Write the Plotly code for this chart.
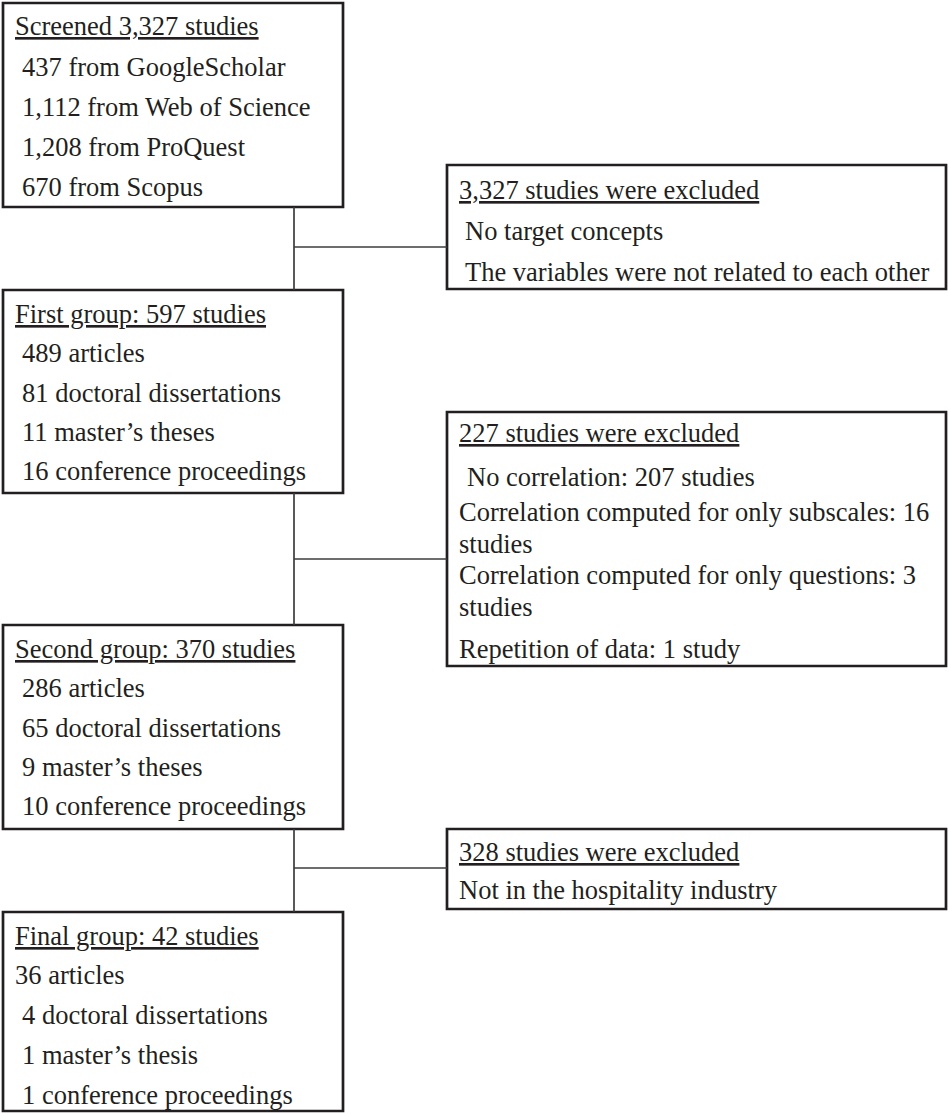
import plotly.graph_objects as go

# ---- text content (data) ----
screened_header = "Screened 3,327 studies"
screened_items = ["437 from GoogleScholar", "1,112 from Web of Science",
                  "1,208 from ProQuest", "670 from Scopus"]

excl1_header = "3,327 studies were excluded"
excl1_items = ["No target concepts", "The variables were not related to each other"]

first_header = "First group: 597 studies"
first_items = ["489 articles", "81 doctoral dissertations",
               "11 master\u2019s theses", "16 conference proceedings"]

excl2_header = "227 studies were excluded"
excl2_items = ["No correlation: 207 studies",
               "Correlation computed for only subscales: 16", "studies",
               "Correlation computed for only questions: 3", "studies",
               "Repetition of data: 1 study"]

second_header = "Second group: 370 studies"
second_items = ["286 articles", "65 doctoral dissertations",
                "9 master\u2019s theses", "10 conference proceedings"]

excl3_header = "328 studies were excluded"
excl3_items = ["Not in the hospitality industry"]

final_header = "Final group: 42 studies"
final_items = ["36 articles", "4 doctoral dissertations",
               "1 master\u2019s thesis", "1 conference proceedings"]

# ---- layout (positions in page pixels) ----
W, H = 949, 1113
TEXT = "#231f20"
FONT = "Liberation Serif, Times New Roman, serif"
FS = 26.5

boxes = [
    # (x0, y0, x1, y1, header, items, header_x, item_xs, line_ys)
    (3, 3, 343, 207, screened_header, screened_items, 13, [20, 20, 20, 20],
     [26, 67, 107, 147, 187]),
    (447, 165, 946, 289, excl1_header, excl1_items, 457, [463, 463],
     [190, 231, 272]),
    (3, 290, 343, 493, first_header, first_items, 13, [20, 20, 20, 20],
     [314, 353, 393, 432, 471]),
    (447, 412, 946, 666, excl2_header, excl2_items, 457,
     [465, 457, 457, 457, 457, 457],
     [433, 477, 512, 544, 575, 607, 649]),
    (3, 625, 343, 829, second_header, second_items, 13, [20, 20, 20, 20],
     [649, 688, 728, 767, 806]),
    (447, 829, 946, 909, excl3_header, excl3_items, 457, [457],
     [852, 890]),
    (3, 912, 343, 1111, final_header, final_items, 13, [13, 20, 20, 20],
     [936, 975, 1015, 1055, 1095]),
]

connectors = [
    # vertical x, y top, y bottom, horizontal y, horizontal x end
    (294, 207, 290, 247, 447),
    (294, 493, 625, 559, 447),
    (294, 829, 912, 868, 447),
]

fig = go.Figure()
fig.add_trace(go.Scatter(x=[0, W], y=[0, H], mode="markers",
                         marker=dict(opacity=0), hoverinfo="skip",
                         showlegend=False))

shapes = []
annotations = []
for (x0, y0, x1, y1, header, items, hx, ixs, ys) in boxes:
    shapes.append(dict(type="rect", xref="x", yref="y", x0=x0, y0=y0, x1=x1, y1=y1,
                       line=dict(color=TEXT, width=2.7), fillcolor="rgba(0,0,0,0)"))
    annotations.append(dict(x=hx, y=ys[0], xref="x", yref="y", text="<u>" + header + "</u>",
                            showarrow=False, xanchor="left", yanchor="middle",
                            font=dict(family=FONT, size=FS, color=TEXT)))
    for t, ix, yy in zip(items, ixs, ys[1:]):
        annotations.append(dict(x=ix, y=yy, xref="x", yref="y", text=t,
                                showarrow=False, xanchor="left", yanchor="middle",
                                font=dict(family=FONT, size=FS, color=TEXT)))

for (vx, vy0, vy1, hy, hx1) in connectors:
    shapes.append(dict(type="line", xref="x", yref="y", x0=vx, y0=vy0, x1=vx, y1=vy1,
                       line=dict(color="#3c3c3c", width=1.7)))
    shapes.append(dict(type="line", xref="x", yref="y", x0=vx, y0=hy, x1=hx1, y1=hy,
                       line=dict(color="#3c3c3c", width=1.7)))

fig.update_layout(
    width=W, height=H,
    margin=dict(l=0, r=0, t=0, b=0),
    paper_bgcolor="white", plot_bgcolor="white",
    xaxis=dict(range=[0, W], visible=False, fixedrange=True),
    yaxis=dict(range=[H, 0], visible=False, fixedrange=True),
    shapes=shapes, annotations=annotations,
    showlegend=False,
)

fig.write_html("out.html", config={"displayModeBar": False},
               post_script="document.body.style.margin='0px';document.body.style.overflow='hidden';")
